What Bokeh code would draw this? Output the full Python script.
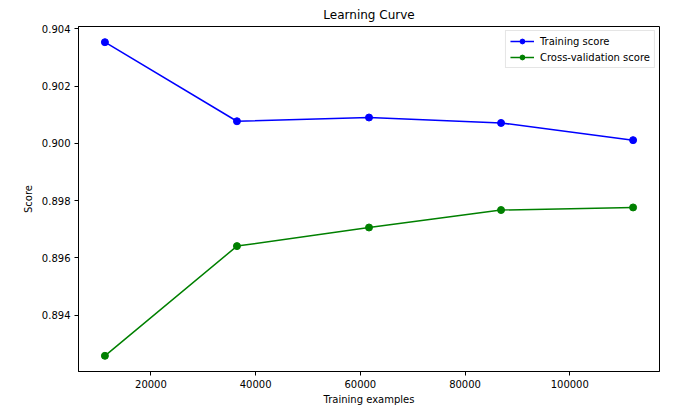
from bokeh.plotting import figure
from bokeh.models import FixedTicker, NumeralTickFormatter, Range1d
from bokeh.embed import file_html
from bokeh.resources import INLINE

train_sizes = [11210, 36433, 61655, 86878, 112100]
train_scores = [0.90353, 0.90077, 0.90090, 0.90071, 0.90011]
cv_scores = [0.89258, 0.89641, 0.89706, 0.89767, 0.89776]
x_ticks = [20000, 40000, 60000, 80000, 100000]
y_ticks = [0.894, 0.896, 0.898, 0.900, 0.902, 0.904]

FONT = "DejaVu Sans"

span_x = max(train_sizes) - min(train_sizes)
all_y = train_scores + cv_scores
span_y = max(all_y) - min(all_y)

p = figure(width=678, height=407, output_backend="svg", toolbar_location=None,
           title="Learning Curve",
           x_range=Range1d(min(train_sizes) - 0.05 * span_x, max(train_sizes) + 0.05 * span_x),
           y_range=Range1d(min(all_y) - 0.05 * span_y, max(all_y) + 0.05 * span_y),
           min_border_left=78, min_border_right=19, min_border_top=26, min_border_bottom=35)

p.title.align = "center"
p.title.text_font = FONT
p.title.text_font_size = "12px"
p.title.text_font_style = "normal"
p.title.text_color = "black"

p.xgrid.visible = False
p.ygrid.visible = False
p.outline_line_color = "black"
p.outline_line_width = 1
p.outline_line_alpha = 1

for ax in (p.xaxis[0], p.yaxis[0]):
    ax.axis_line_color = "black"
    ax.major_tick_line_color = "black"
    ax.major_tick_out = 4
    ax.major_tick_in = 0
    ax.minor_tick_line_color = None
    ax.major_label_text_font = FONT
    ax.major_label_text_font_size = "10px"
    ax.major_label_text_color = "black"
    ax.axis_label_text_font = FONT
    ax.axis_label_text_font_size = "10px"
    ax.axis_label_text_font_style = "normal"
    ax.axis_label_text_color = "black"
    ax.major_label_standoff = 4

p.xaxis.ticker = FixedTicker(ticks=x_ticks)
p.xaxis.formatter = NumeralTickFormatter(format="0")
p.yaxis.ticker = FixedTicker(ticks=y_ticks)
p.yaxis.formatter = NumeralTickFormatter(format="0.000")
p.xaxis.axis_label = "Training examples"
p.yaxis.axis_label = "Score"
p.xaxis.axis_label_standoff = 3
p.yaxis.axis_label_standoff = 5

p.line(train_sizes, train_scores, line_color="blue", line_width=1.5, legend_label="Training score")
p.scatter(train_sizes, train_scores, marker="circle", size=7, fill_color="blue", line_color="blue",
          legend_label="Training score")
p.line(train_sizes, cv_scores, line_color="green", line_width=1.5, legend_label="Cross-validation score")
p.scatter(train_sizes, cv_scores, marker="circle", size=7, fill_color="green", line_color="green",
          legend_label="Cross-validation score")

lg = p.legend[0]
lg.location = "top_right"
lg.margin = 4
lg.padding = 4
lg.spacing = 4
lg.glyph_width = 24
lg.glyph_height = 12
lg.label_height = 12
lg.label_standoff = 6
lg.label_text_font = FONT
lg.label_text_font_size = "10px"
lg.label_text_color = "black"
lg.border_line_color = "#cccccc"
lg.border_line_width = 1
lg.background_fill_alpha = 0.8

open("out.html", "w").write(file_html(p, INLINE))
